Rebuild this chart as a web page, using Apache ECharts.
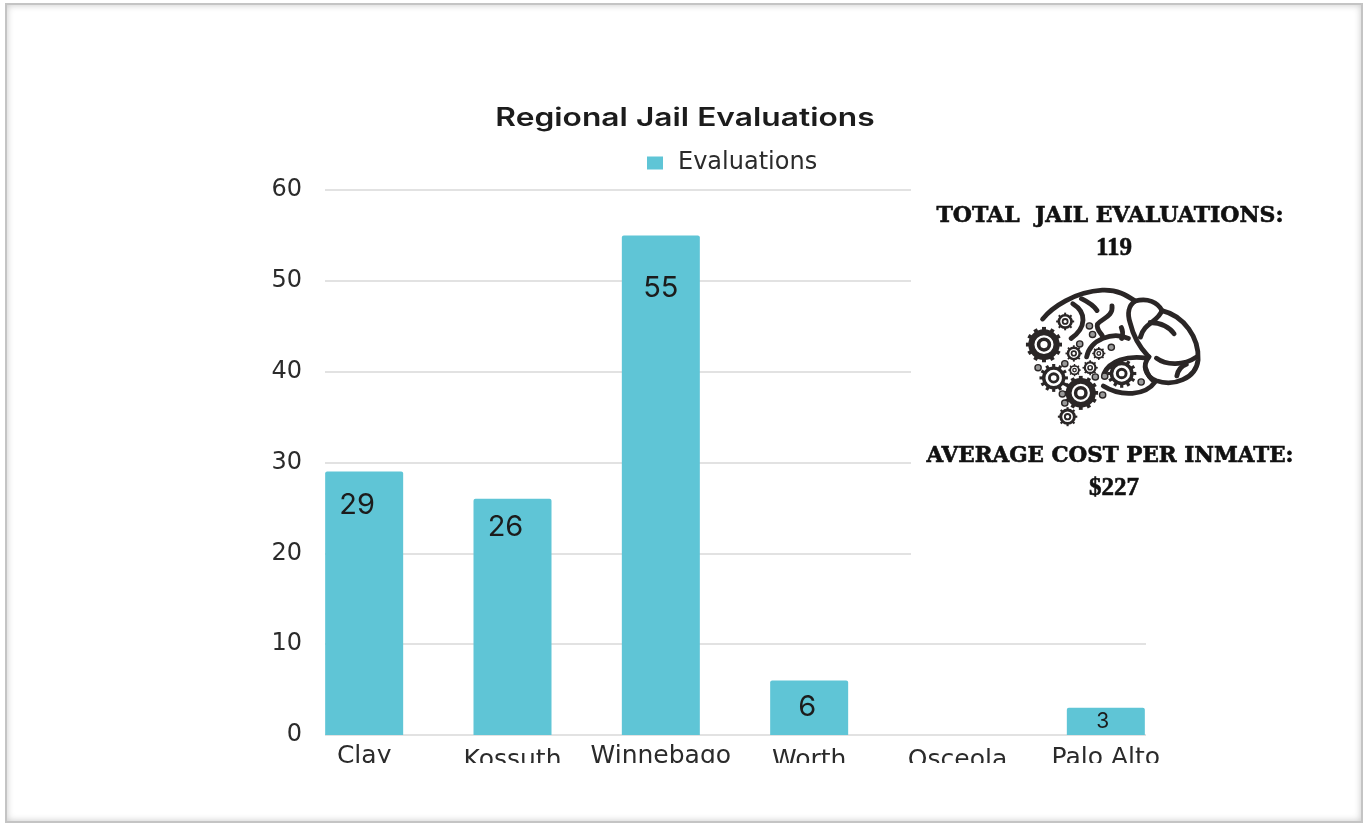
<!DOCTYPE html>
<html>
<head>
<meta charset="utf-8">
<title>Regional Jail Evaluations</title>
<style>
html, body { margin: 0; padding: 0; background: #fff; }
#frame {
    position: absolute; left: 5px; top: 3px; width: 1354px; height: 816px;
    border: 2px solid #c4c4c4;
    box-shadow: inset 0 0 7px rgba(0,0,0,0.22);
}
#chart { position: absolute; left: 0; top: 0; width: 1364px; height: 823px; }
</style>
<script src="https://cdn.jsdelivr.net/npm/echarts@6/dist/echarts.min.js"></script>
</head>
<body>
<div id="frame"></div>
<div id="chart"></div>
<script>
// chart data
const categories = ['Clay', 'Kossuth', 'Winnebago', 'Worth', 'Osceola', 'Palo Alto'];
const evaluations = [29, 26, 55, 6, 0, 3];
const yTicks = [0, 10, 20, 30, 40, 50, 60];
const seriesName = 'Evaluations';
const chartTitle = 'Regional Jail Evaluations';
const sideTexts = ['TOTAL  JAIL EVALUATIONS:', '119', 'AVERAGE COST PER INMATE:', '$227'];

const chart = echarts.init(document.getElementById('chart'));

// the gridlines stop short above 20 because the text box sits over them
function gridLine(v) {
    const right = v >= 20 ? 911 : 1146;
    return [{ x: 325, yAxis: v }, { x: right, yAxis: v }];
}

// labels sit at different spots inside the bars
const labelLook = [
    { offset: [-7, 0], fontSize: 29, position: ['50%', 19] },
    { offset: [-7, 0], fontSize: 29, position: ['50%', 14] },
    { offset: [0, 0], fontSize: 29, position: ['50%', 38] },
    { offset: [-2, 0], fontSize: 29, position: ['50%', 12] },
    {},
    { offset: [-3, 0], fontSize: 21, position: ['50%', 3] }
];

// category labels do not share a baseline in the source
const labelDrop = [0, 4, 0, 4, 4, 2];
const richDrop = {};
labelDrop.forEach((d, i) => { richDrop['l' + i] = { padding: [d, 0, 0, 0] }; });

// brain icon, drawn in a 3x space and scaled down
const brainPaths = [
    'M68 115 C95 80 160 35 240 30 C285 28 310 45 335 62 C370 52 400 65 412 90 C475 105 520 170 516 235 C510 290 445 315 395 296 C362 282 355 250 375 226',
    'M335 62 C315 75 312 100 320 125 C328 160 345 195 372 224',
    'M412 90 C400 125 360 125 350 168',
    'M378 125 C410 125 435 140 447 158',
    'M396 230 C425 252 475 252 512 226',
    'M455 282 C458 265 465 255 482 248',
    'M180 55 C200 65 215 75 225 90',
    'M155 70 C195 95 195 140 150 172',
    'M268 76 C272 108 240 112 226 130 C222 145 235 155 240 164',
    'M295 140 C302 155 298 165 296 172',
    'M315 172 C270 150 205 175 195 226',
    'M245 275 C262 238 310 222 368 230',
    'M366 262 C372 285 385 295 392 300 C365 340 295 345 243 312'
];
// [x, y, radius] in the same 3x space
const bigGears = [[72, 190, 52], [178, 332, 50]];
const midGears = [[100, 288, 41], [296, 275, 42]];
const smallGears = [[133, 122, 26], [158, 216, 24], [205, 258, 22], [230, 216, 19], [140, 402, 28], [160, 265, 18]];
const dots = [[203, 135], [212, 160], [175, 188], [266, 198], [132, 246], [55, 258], [220, 285], [247, 283], [352, 300], [241, 338], [125, 335], [132, 362]];
const iconColor = '#2a2626';

function gear(c, r, inner, ring) {
    const out = [];
    const teeth = r > 30 ? 12 : 8;
    for (let i = 0; i < teeth; i++) {
        const a = (i / teeth) * Math.PI * 2;
        out.push({
            type: 'line',
            shape: { x1: c[0] + Math.cos(a) * r * 0.7, y1: c[1] + Math.sin(a) * r * 0.7, x2: c[0] + Math.cos(a) * r, y2: c[1] + Math.sin(a) * r },
            style: { stroke: iconColor, lineWidth: r * 0.22 }
        });
    }
    out.push({ type: 'circle', shape: { cx: c[0], cy: c[1], r: r * 0.7 }, style: { fill: '#fff', stroke: iconColor, lineWidth: r * ring } });
    out.push({ type: 'circle', shape: { cx: c[0], cy: c[1], r: r * inner }, style: { fill: '#fff', stroke: iconColor, lineWidth: r * 0.2 } });
    return out;
}

function brainIcon() {
    let children = brainPaths.map(d => ({
        type: 'path',
        shape: { pathData: d },
        style: { fill: null, stroke: iconColor, lineWidth: 14, lineCap: 'round', lineJoin: 'round' }
    }));
    bigGears.forEach(g => { children = children.concat(gear(g, g[2], 0.3, 0.34)); });
    midGears.forEach(g => { children = children.concat(gear(g, g[2], 0.3, 0.24)); });
    smallGears.forEach(g => { children = children.concat(gear(g, g[2], 0.28, 0.3)); });
    dots.forEach(d => {
        children.push({ type: 'circle', shape: { cx: d[0], cy: d[1], r: 9 }, style: { fill: '#999', stroke: iconColor, lineWidth: 4 } });
    });
    return { type: 'group', x: 1019, y: 280, scaleX: 0.347, scaleY: 0.34, children: children };
}

function sideText(text, y, font) {
    return {
        type: 'text', x: text.length > 6 ? 1110 : 1114, y: y,
        style: { text: text, x: 0, y: 0, align: 'center', verticalAlign: 'middle', fill: '#111', stroke: '#111', lineWidth: 0.6, font: font }
    };
}

const headFont = 'bold 22px "DejaVu Serif"';
const numFont = 'bold 25px "Liberation Serif"';

const option = {
    animation: false,
    backgroundColor: 'transparent',
    legend: {
        data: [seriesName],
        left: 642, top: 146,
        icon: 'rect', itemWidth: 16, itemHeight: 13, itemGap: 15,
        textStyle: { fontFamily: 'DejaVu Sans', fontSize: 24, color: '#2b2b2b', padding: [0, 0, 0, 10] }
    },
    grid: { left: 290, right: 184, top: 190, bottom: 88 },
    xAxis: {
        type: 'category',
        data: categories,
        axisLine: { show: false },
        axisTick: { show: false },
        axisLabel: {
            interval: 0,
            fontFamily: 'DejaVu Sans', fontSize: 25, color: '#2b2b2b', margin: 9,
            formatter: (v, i) => '{l' + i + '|' + v + '}',
            rich: richDrop
        }
    },
    yAxis: {
        type: 'value',
        min: yTicks[0], max: yTicks[yTicks.length - 1], interval: 10,
        axisLine: { show: false },
        axisTick: { show: false },
        splitLine: { show: false },
        axisLabel: { fontFamily: 'DejaVu Sans', fontSize: 24, color: '#2b2b2b', margin: -12, padding: [3, 0, 0, 0] }
    },
    series: [{
        name: seriesName,
        type: 'bar',
        barWidth: 78,
        itemStyle: { color: '#5fc5d6', borderRadius: [2, 2, 0, 0] },
        data: evaluations.map((v, i) => ({
            value: v,
            label: {
                show: v > 0,
                position: labelLook[i].position,
                align: 'center',
                offset: labelLook[i].offset,
                fontSize: labelLook[i].fontSize
            }
        })),
        label: { color: '#1c1c1c', fontFamily: 'Inter' },
        markLine: {
            silent: true,
            symbol: 'none',
            label: { show: false },
            z: 1,
            lineStyle: { color: '#d9d9d9', width: 1.5, type: 'solid' },
            data: yTicks.map(gridLine)
        }
    }, {
        // icon only, not a data series
        type: 'custom',
        coordinateSystem: 'none',
        silent: true,
        data: [0],
        renderItem: () => brainIcon()
    }],
    graphic: [
        {
            type: 'text', x: 685, y: 118, scaleX: 1.27,
            style: { text: chartTitle, x: 0, y: 0, align: 'center', verticalAlign: 'middle', fill: '#1c1c1c', font: '600 25px Inter' }
        },
        sideText(sideTexts[0], 216, headFont),
        sideText(sideTexts[1], 249, numFont),
        sideText(sideTexts[2], 456, 'bold 21.5px "DejaVu Serif"'),
        sideText(sideTexts[3], 489, numFont),
        // the category labels are cut off at the bottom in the source
        { type: 'rect', z: 100, shape: { x: 320, y: 763, width: 860, height: 20 }, style: { fill: '#fff' } }
    ]
};
chart.setOption(option);
</script>
</body>
</html>
